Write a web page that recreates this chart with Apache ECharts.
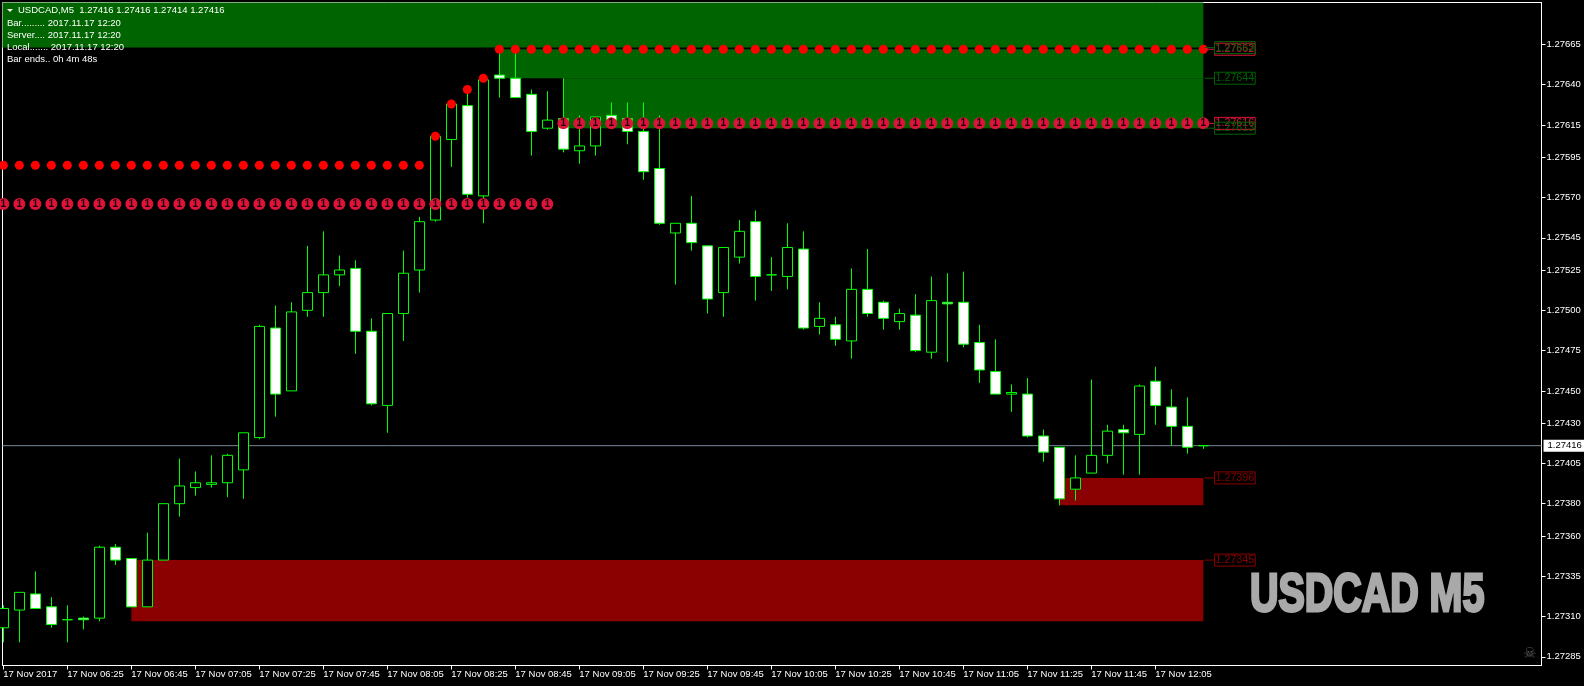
<!DOCTYPE html>
<html>
<head>
<meta charset="utf-8">
<title>USDCAD M5</title>
<style>
  html, body { margin: 0; padding: 0; background: #000; }
  #main { width: 1584px; height: 686px; }
</style>
<script src="https://cdn.jsdelivr.net/npm/echarts@6/dist/echarts.min.js"></script>
</head>
<body>
<div id="main"></div>
<script>
// 5 minute bars, 06:05 to 12:20
const openPrices = [
  1.27303, 1.27314, 1.27324, 1.27316, 1.27308, 1.27309, 1.27309, 1.27353, 1.27346, 1.27316,
  1.27345, 1.27380, 1.27390, 1.27392, 1.27393, 1.27401, 1.27421, 1.27489, 1.27450, 1.27500,
  1.27511, 1.27522, 1.27526, 1.27487, 1.27441, 1.27498, 1.27525, 1.27556, 1.27606, 1.27627,
  1.27571, 1.27646, 1.27644, 1.27634, 1.27613, 1.27619, 1.27599, 1.27602, 1.27621, 1.27619,
  1.27611, 1.27588, 1.27548, 1.27554, 1.27540, 1.27511, 1.27533, 1.27555, 1.27522, 1.27521,
  1.27538, 1.27490, 1.27491, 1.27481, 1.27513, 1.27505, 1.27493, 1.27497, 1.27474, 1.27505,
  1.27505, 1.27480, 1.27462, 1.27448, 1.27448, 1.27422, 1.27415, 1.27389, 1.27399, 1.27410,
  1.27426, 1.27423, 1.27456, 1.27440, 1.27428, 1.27416
];
const highPrices = [
  1.27317, 1.27325, 1.27338, 1.27322, 1.27317, 1.27310, 1.27354, 1.27355, 1.27346, 1.27362,
  1.27380, 1.27408, 1.27400, 1.27410, 1.27411, 1.27424, 1.27491, 1.27503, 1.27505, 1.27540,
  1.27549, 1.27534, 1.27531, 1.27495, 1.27498, 1.27537, 1.27558, 1.27608, 1.27628, 1.27637,
  1.27643, 1.27662, 1.27662, 1.27637, 1.27636, 1.27644, 1.27621, 1.27620, 1.27629, 1.27629,
  1.27629, 1.27621, 1.27554, 1.27571, 1.27540, 1.27539, 1.27556, 1.27562, 1.27533, 1.27554,
  1.27549, 1.27505, 1.27496, 1.27526, 1.27538, 1.27506, 1.27501, 1.27510, 1.27521, 1.27523,
  1.27524, 1.27491, 1.27482, 1.27454, 1.27458, 1.27426, 1.27415, 1.27410, 1.27457, 1.27429,
  1.27429, 1.27454, 1.27465, 1.27451, 1.27446, 1.27416
];
const lowPrices = [
  1.27294, 1.27294, 1.27315, 1.27303, 1.27294, 1.27302, 1.27307, 1.27342, 1.27316, 1.27316,
  1.27345, 1.27372, 1.27385, 1.27390, 1.27384, 1.27383, 1.27420, 1.27434, 1.27450, 1.27496,
  1.27496, 1.27515, 1.27473, 1.27441, 1.27424, 1.27481, 1.27511, 1.27555, 1.27589, 1.27570,
  1.27554, 1.27632, 1.27632, 1.27596, 1.27612, 1.27598, 1.27591, 1.27596, 1.27614, 1.27603,
  1.27581, 1.27553, 1.27516, 1.27537, 1.27498, 1.27496, 1.27529, 1.27506, 1.27512, 1.27513,
  1.27488, 1.27485, 1.27478, 1.27470, 1.27496, 1.27488, 1.27488, 1.27474, 1.27470, 1.27468,
  1.27477, 1.27455, 1.27448, 1.27437, 1.27421, 1.27406, 1.27379, 1.27382, 1.27399, 1.27405,
  1.27398, 1.27398, 1.27429, 1.27416, 1.27411, 1.27414
];
const closePrices = [
  1.27315, 1.27325, 1.27315, 1.27305, 1.27308, 1.27308, 1.27353, 1.27345, 1.27316, 1.27345,
  1.27380, 1.27391, 1.27393, 1.27393, 1.27410, 1.27424, 1.27490, 1.27448, 1.27499, 1.27511,
  1.27522, 1.27525, 1.27487, 1.27442, 1.27498, 1.27523, 1.27555, 1.27608, 1.27628, 1.27572,
  1.27643, 1.27644, 1.27632, 1.27611, 1.27618, 1.27600, 1.27602, 1.27620, 1.27618, 1.27611,
  1.27586, 1.27554, 1.27554, 1.27542, 1.27507, 1.27539, 1.27549, 1.27521, 1.27522, 1.27539,
  1.27489, 1.27495, 1.27482, 1.27513, 1.27498, 1.27495, 1.27498, 1.27475, 1.27506, 1.27504,
  1.27479, 1.27463, 1.27448, 1.27449, 1.27422, 1.27412, 1.27383, 1.27396, 1.27410, 1.27425,
  1.27424, 1.27453, 1.27441, 1.27428, 1.27415, 1.27416
];

// indicator buffers, one value per bar
const redDots = [
  1.27590, 1.27590, 1.27590, 1.27590, 1.27590, 1.27590, 1.27590, 1.27590, 1.27590, 1.27590,
  1.27590, 1.27590, 1.27590, 1.27590, 1.27590, 1.27590, 1.27590, 1.27590, 1.27590, 1.27590,
  1.27590, 1.27590, 1.27590, 1.27590, 1.27590, 1.27590, 1.27590, 1.27608, 1.27628, 1.27637,
  1.27644, 1.27662, 1.27662, 1.27662, 1.27662, 1.27662, 1.27662, 1.27662, 1.27662, 1.27662,
  1.27662, 1.27662, 1.27662, 1.27662, 1.27662, 1.27662, 1.27662, 1.27662, 1.27662, 1.27662,
  1.27662, 1.27662, 1.27662, 1.27662, 1.27662, 1.27662, 1.27662, 1.27662, 1.27662, 1.27662,
  1.27662, 1.27662, 1.27662, 1.27662, 1.27662, 1.27662, 1.27662, 1.27662, 1.27662, 1.27662,
  1.27662, 1.27662, 1.27662, 1.27662, 1.27662, 1.27662
];
const crimsonDots = [
  1.27566, 1.27566, 1.27566, 1.27566, 1.27566, 1.27566, 1.27566, 1.27566, 1.27566, 1.27566,
  1.27566, 1.27566, 1.27566, 1.27566, 1.27566, 1.27566, 1.27566, 1.27566, 1.27566, 1.27566,
  1.27566, 1.27566, 1.27566, 1.27566, 1.27566, 1.27566, 1.27566, 1.27566, 1.27566, 1.27566,
  1.27566, 1.27566, 1.27566, 1.27566, 1.27566, 1.27616, 1.27616, 1.27616, 1.27616, 1.27616,
  1.27616, 1.27616, 1.27616, 1.27616, 1.27616, 1.27616, 1.27616, 1.27616, 1.27616, 1.27616,
  1.27616, 1.27616, 1.27616, 1.27616, 1.27616, 1.27616, 1.27616, 1.27616, 1.27616, 1.27616,
  1.27616, 1.27616, 1.27616, 1.27616, 1.27616, 1.27616, 1.27616, 1.27616, 1.27616, 1.27616,
  1.27616, 1.27616, 1.27616, 1.27616, 1.27616, 1.27616
];

// supply / demand boxes: first bar, last bar, upper and lower price
const zoneStart = [-1, 31, 35, 8, 66];
const zoneEnd = [75, 75, 75, 75, 75];
const zoneUpper = [1.27691, 1.27662, 1.27644, 1.27345, 1.27396];
const zoneLower = [1.27663, 1.27644, 1.27613, 1.27307, 1.27379];
const zoneColors = ['#006400', '#006400', '#006400', '#8b0000', '#8b0000'];

const levelPrices = [1.27662, 1.27663, 1.27644, 1.27616, 1.27613, 1.27396, 1.27345];
const levelColors = ['#dc143c', '#006400', '#006400', '#dc143c', '#006400', '#8b0000', '#8b0000'];

const lastPrice = 1.27416;
const xMin = -0.052;
const xMax = 96.135;
const priceTicks = [
  1.27665, 1.27640, 1.27615, 1.27595, 1.27570, 1.27545, 1.27525, 1.27500, 1.27475,
  1.27450, 1.27430, 1.27405, 1.27380, 1.27360, 1.27335, 1.27310, 1.27285
];
const timeTickBars = [0, 4, 8, 12, 16, 20, 24, 28, 32, 36, 40, 44, 48, 52, 56, 60, 64, 68, 72];
const timeTickLabels = [
  '17 Nov 2017', '17 Nov 06:25', '17 Nov 06:45', '17 Nov 07:05', '17 Nov 07:25',
  '17 Nov 07:45', '17 Nov 08:05', '17 Nov 08:25', '17 Nov 08:45', '17 Nov 09:05',
  '17 Nov 09:25', '17 Nov 09:45', '17 Nov 10:05', '17 Nov 10:25', '17 Nov 10:45',
  '17 Nov 11:05', '17 Nov 11:25', '17 Nov 11:45', '17 Nov 12:05'
];

const headerText = 'USDCAD,M5  1.27416 1.27416 1.27414 1.27416';
const infoLines = [
  'Bar......... 2017.11.17 12:20',
  'Server.... 2017.11.17 12:20',
  'Local....... 2017.11.17 12:20',
  'Bar ends.. 0h 4m 48s'
];

const FONT = '"Liberation Sans", Arial, sans-serif';
const myChart = echarts.init(document.getElementById('main'), null, { renderer: 'canvas' });

const candleData = openPrices.map(function(o, i) {
  return [i, o, closePrices[i], lowPrices[i], highPrices[i]];
});

const zoneAreas = zoneStart.map(function(s, i) {
  return [
    { coord: [s, zoneUpper[i]], itemStyle: { color: zoneColors[i], opacity: 1 } },
    { coord: [zoneEnd[i], zoneLower[i]] }
  ];
});

// small boxed price tags right of the zones
const levelSeries = levelPrices.map(function(p, i) {
  return {
    type: 'line',
    z: 5,
    silent: true,
    showSymbol: false,
    symbol: 'none',
    lineStyle: { color: levelColors[i], width: 1 },
    data: [[75.07, p], [75.7, p]],
    endLabel: {
      show: true,
      distance: 0,
      formatter: function() { return p.toFixed(5); },
      color: levelColors[i],
      fontFamily: FONT,
      fontSize: 10.7,
      lineHeight: 11,
      padding: [1, 1, 0, 1],
      borderColor: levelColors[i],
      borderWidth: 1
    }
  };
});

const graphicItems = [
  { type: 'polygon', z: 20, shape: { points: [[7, 9], [13, 9], [10, 12]] }, style: { fill: '#fff' } },
  { type: 'text', z: 20, left: 18, top: 5, style: { text: headerText, fill: '#fff', font: '9.5px ' + FONT } },
  { type: 'text', z: 1, x: 1250, y: 569, scaleX: 0.73, style: {
    text: 'USDCAD M5', fill: '#a9a9a9', stroke: '#a9a9a9', lineWidth: 3,
    font: 'bold 54px ' + FONT } },
  { type: 'text', z: 1, left: 1523, top: 647, style: { text: '☠', fill: '#555', font: '15px "DejaVu Sans"' } }
];
infoLines.forEach(function(line, i) {
  graphicItems.push({ type: 'text', z: 20, left: 7, top: 18 + i * 12.1, style: { text: line, fill: '#fff', font: '9.5px ' + FONT } });
});

const option = {
  animation: false,
  backgroundColor: '#000',
  tooltip: { show: false },
  grid: {
    left: 2.5, top: 2.5, right: 42.5, bottom: 20.5,
    show: true, borderColor: '#fff', borderWidth: 1, backgroundColor: 'transparent'
  },
  xAxis: {
    type: 'value',
    min: xMin,
    max: xMax,
    splitLine: { show: false },
    axisLine: { onZero: false, lineStyle: { color: '#fff' } },
    axisTick: { length: 4, lineStyle: { color: '#fff' }, customValues: timeTickBars },
    axisLabel: {
      customValues: timeTickBars,
      color: '#fff',
      align: 'left',
      margin: 4,
      fontFamily: FONT,
      fontSize: 9.5,
      formatter: function(v) { return timeTickLabels[timeTickBars.indexOf(v)]; }
    }
  },
  yAxis: {
    type: 'value',
    position: 'right',
    min: 1.272796,
    max: 1.27691,
    splitLine: { show: false },
    axisLine: { show: true, onZero: false, lineStyle: { color: '#fff' } },
    axisTick: { show: true, length: 4, lineStyle: { color: '#fff' }, customValues: priceTicks },
    axisLabel: {
      customValues: priceTicks,
      color: '#fff',
      margin: 5,
      fontFamily: FONT,
      fontSize: 9.5,
      formatter: function(v) { return v.toFixed(5); }
    }
  },
  graphic: graphicItems,
  series: [{
    type: 'line',
    z: 1,
    silent: true,
    symbol: 'none',
    data: [],
    markArea: { silent: true, z: 1, data: zoneAreas }
  }, {
    // last price line, sits under the candles
    type: 'line',
    z: 2,
    silent: true,
    showSymbol: false,
    symbol: 'none',
    lineStyle: { color: '#778899', width: 1 },
    data: [[xMin, lastPrice], [xMax, lastPrice]],
    endLabel: {
      show: true,
      distance: 2,
      color: '#000',
      backgroundColor: '#fff',
      padding: [1, 3, 1, 4],
      fontFamily: FONT,
      fontSize: 9.5,
      formatter: function() { return lastPrice.toFixed(5); }
    }
  }, {
    type: 'candlestick',
    z: 3,
    silent: true,
    barWidth: 10,
    itemStyle: {
      color: '#000',
      color0: '#fff',
      borderColor: '#00ff00',
      borderColor0: '#00ff00',
      borderColorDoji: '#00ff00',
      borderWidth: 1
    },
    data: candleData
  }, {
    type: 'scatter',
    z: 4,
    silent: true,
    symbol: 'circle',
    symbolSize: 9,
    itemStyle: { color: '#ff0000', opacity: 1 },
    data: redDots.map(function(v, i) { return [i, v]; })
  }, {
    type: 'scatter',
    z: 4,
    silent: true,
    symbol: 'circle',
    symbolSize: 12,
    itemStyle: { color: '#dc143c', opacity: 1 },
    label: {
      show: true,
      position: 'inside',
      formatter: '1',
      color: '#1a0006',
      textBorderWidth: 0,
      textBorderColor: 'transparent',
      fontFamily: FONT,
      fontWeight: 'bold',
      fontSize: 10
    },
    data: crimsonDots.map(function(v, i) { return [i, v]; })
  }].concat(levelSeries)
};

myChart.setOption(option);
</script>
</body>
</html>
